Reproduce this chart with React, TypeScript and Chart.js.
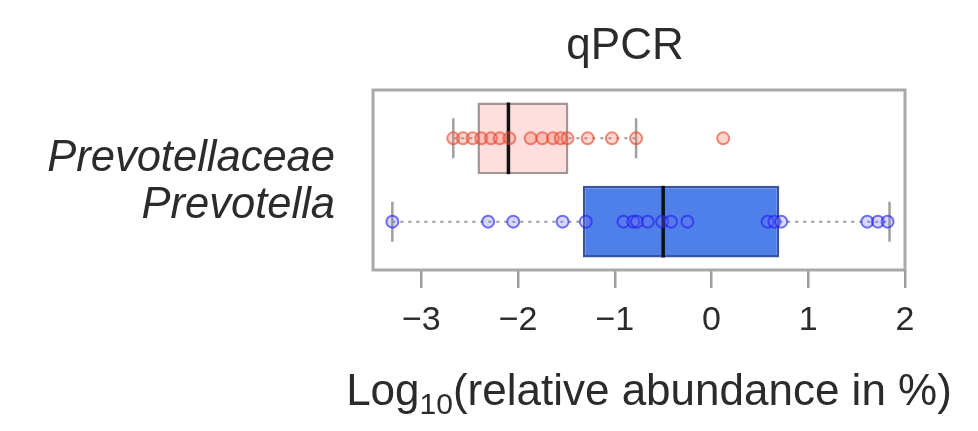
import React, { useEffect, useRef } from 'react';
import { Chart, registerables } from 'chart.js';

Chart.register(...registerables);

// ---- data ----
const categories = ['Prevotellaceae', 'Prevotella'];
const categoryPositions = [2, 1];
const boxQ1 = [-2.42, -1.33];
const boxMedian = [-2.1, -0.5];
const boxQ3 = [-1.48, 0.7];
const whiskerLow = [-2.67, -3.3];
const whiskerHigh = [-0.78, 1.84];
const prevotellaceaePoints = [
  -2.67, -2.57, -2.47, -2.38, -2.28, -2.19, -2.09, -1.87, -1.75, -1.64, -1.56, -1.49, -1.28, -1.03, -0.78, 0.12,
];
const prevotellaPoints = [
  -3.3, -2.31, -2.05, -1.54, -1.3, -0.91, -0.81, -0.77, -0.66, -0.51, -0.42, -0.25, 0.58, 0.65, 0.72, 1.61, 1.72, 1.82,
];
const xTicks = [-3, -2, -1, 0, 1, 2];
const titleText = 'qPCR';
const xTitleMain = 'Log';
const xTitleSub = '10';
const xTitleRest = '(relative abundance in %)';

// ---- styling ----
const FONT = "'Liberation Sans', Arial, Helvetica, sans-serif";
const TEXT = '#2b2b2b';
const BOX_HALF = 0.43;
const STAPLE_HALF = 0.24;
const boxFill = ['#FFDEDE', '#4F7FE8'];
const boxBorder = ['#A39595', '#3A54A4'];
const pointBorder = ['rgba(228,65,40,0.6)', 'rgba(30,30,235,0.62)'];
const pointFill = ['rgba(250,120,95,0.3)', 'rgba(110,110,255,0.28)'];

const textPlugin = {
  id: 'frameAndTitles',
  afterDraw(chart: any) {
    const { ctx, chartArea } = chart;
    ctx.save();
    ctx.strokeStyle = '#a9a9a9';
    ctx.lineWidth = 3;
    ctx.strokeRect(chartArea.left, chartArea.top, chartArea.right - chartArea.left, chartArea.bottom - chartArea.top);

    const midX = (chartArea.left + chartArea.right) / 2;
    ctx.fillStyle = TEXT;

    // main title
    ctx.font = `44px ${FONT}`;
    ctx.textAlign = 'center';
    ctx.textBaseline = 'middle';
    ctx.fillText(titleText, midX - 14, 47);

    // x-axis title with a real subscript
    const cx = midX + 10;
    const baseY = 405;
    const mainFont = `44px ${FONT}`;
    const subFont = `30px ${FONT}`;
    ctx.textBaseline = 'alphabetic';
    ctx.textAlign = 'left';
    ctx.font = mainFont;
    const w1 = ctx.measureText(xTitleMain).width;
    const w3 = ctx.measureText(xTitleRest).width;
    ctx.font = subFont;
    const w2 = ctx.measureText(xTitleSub).width;
    let x = cx - (w1 + w2 + w3) / 2;
    ctx.font = mainFont;
    ctx.fillText(xTitleMain, x, baseY);
    x += w1;
    ctx.font = subFont;
    ctx.fillText(xTitleSub, x, baseY + 9);
    x += w2;
    ctx.font = mainFont;
    ctx.fillText(xTitleRest, x, baseY);
    ctx.restore();
  },
};

export default function App() {
  const ref = useRef<HTMLCanvasElement>(null);

  useEffect(() => {
    document.body.style.margin = '0';
    const canvas = ref.current;
    if (!canvas) return;

    const pointSets = [prevotellaceaePoints, prevotellaPoints];
    const datasets: any[] = [];
    const axes = { xAxisID: 'x', yAxisID: 'y' };

    pointSets.forEach((pts, i) => {
      datasets.push({
        ...axes,
        type: 'line',
        label: categories[i] + ' points',
        data: pts.map((x) => ({ x, y: categoryPositions[i] })),
        showLine: false,
        pointRadius: 6,
        pointBorderWidth: 2,
        pointBorderColor: pointBorder[i],
        pointBackgroundColor: pointFill[i],
        order: 0,
      });
    });

    categoryPositions.forEach((p, i) => {
      datasets.push({
        ...axes,
        type: 'line',
        label: categories[i] + ' median',
        data: [
          { x: boxMedian[i], y: p - BOX_HALF },
          { x: boxMedian[i], y: p + BOX_HALF },
        ],
        borderColor: '#111',
        borderWidth: 3.5,
        pointRadius: 0,
        order: 1,
      });
      datasets.push({
        ...axes,
        type: 'line',
        label: categories[i] + ' whiskers',
        data: [
          { x: whiskerLow[i], y: p },
          { x: boxQ1[i], y: p },
          { x: boxMedian[i], y: null },
          { x: boxQ3[i], y: p },
          { x: whiskerHigh[i], y: p },
        ],
        borderColor: '#9a9a9a',
        borderWidth: 2,
        borderDash: [3, 5],
        pointRadius: 0,
        order: 2,
      });
      datasets.push({
        ...axes,
        type: 'line',
        label: categories[i] + ' staples',
        data: [
          { x: whiskerLow[i], y: p - STAPLE_HALF },
          { x: whiskerLow[i], y: p + STAPLE_HALF },
          { x: boxMedian[i], y: null },
          { x: whiskerHigh[i], y: p - STAPLE_HALF },
          { x: whiskerHigh[i], y: p + STAPLE_HALF },
        ],
        borderColor: '#a0a0a0',
        borderWidth: 2.5,
        pointRadius: 0,
        order: 2,
      });
    });

    datasets.push({
      ...axes,
      type: 'bar',
      label: 'boxes',
      indexAxis: 'y',
      data: categoryPositions.map((p, i) => ({ x: [boxQ1[i], boxQ3[i]], y: p })),
      backgroundColor: boxFill,
      borderColor: boxBorder,
      borderWidth: 2.5,
      borderSkipped: false,
      grouped: false,
      barPercentage: BOX_HALF * 2,
      categoryPercentage: 1,
      order: 3,
    });

    const chart = new Chart(canvas, {
      type: 'bar',
      data: { datasets },
      plugins: [textPlugin],
      options: {
        responsive: false,
        animation: false,
        layout: { padding: { left: 0, right: 73, top: 90, bottom: 0 } },
        plugins: {
          legend: { display: false },
          tooltip: { enabled: false },
          title: { display: false },
        },
        scales: {
          x: {
            type: 'linear',
            position: 'bottom',
            offset: false,
            min: -3.5,
            max: 2.0,
            afterBuildTicks: (axis: any) => {
              axis.ticks = xTicks.map((v) => ({ value: v }));
            },
            afterFit: (axis: any) => {
              axis.height = 161;
            },
            grid: {
              offset: false,
              drawOnChartArea: false,
              drawTicks: true,
              tickLength: 18,
              color: '#9c9c9c',
              lineWidth: 2.5,
            },
            border: { display: false },
            ticks: {
              color: TEXT,
              padding: 12,
              font: { family: FONT, size: 34 },
              callback: (v: any) => String(v).replace('-', '\u2212'),
            },
          },
          y: {
            type: 'linear',
            display: false,
            offset: false,
            grid: { offset: false },
            min: 0.42,
            max: 2.58,
            afterBuildTicks: (axis: any) => {
              axis.ticks = categoryPositions.map((v) => ({ value: v }));
            },
          },
          yLab: {
            type: 'linear',
            position: 'left',
            offset: false,
            min: -0.38,
            max: 3.49,
            afterBuildTicks: (axis: any) => {
              axis.ticks = categoryPositions.map((v) => ({ value: v }));
            },
            afterFit: (axis: any) => {
              axis.width = 373;
            },
            grid: { display: false, drawTicks: false, offset: false },
            border: { display: false },
            ticks: {
              color: TEXT,
              padding: 38,
              font: { family: FONT, size: 43.5, style: 'italic' },
              callback: (v: any) => categories[categoryPositions.indexOf(Number(v))] ?? '',
            },
          },
        },
      } as any,
    });

    return () => chart.destroy();
  }, []);

  return <canvas ref={ref} width={978} height={431} style={{ display: 'block' }} />;
}
